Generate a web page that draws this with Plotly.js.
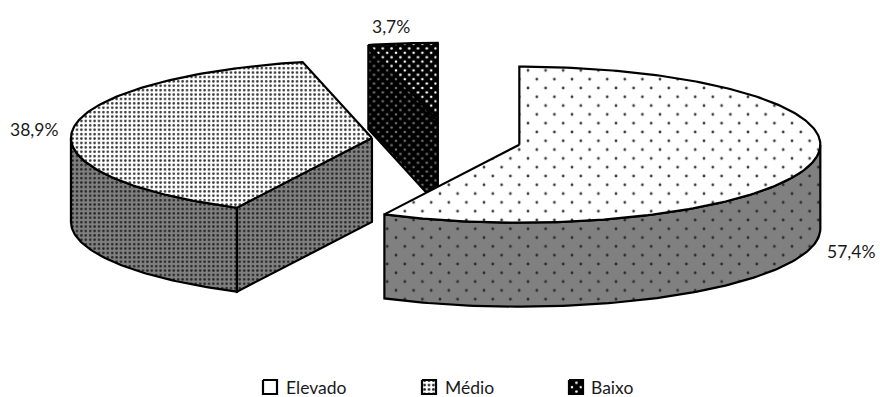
<!DOCTYPE html>
<html>
<head>
<meta charset="utf-8">
<script src="https://cdn.plot.ly/plotly-3.0.1.min.js"></script>
<style>html,body{margin:0;padding:0;background:#fff;overflow:hidden}</style>
</head>
<body>
<div id="chart" style="width:880px;height:397px"></div>
<script>
// Shares of each level, in percent, clockwise from twelve o'clock
const categories = ['Elevado', 'Médio', 'Baixo'];
const shares = [57.4, 38.9, 3.7];

// Projection of the tilted pie onto the page
const pieCentre = {x: 446.4, y: 140.2};
const radiusX = 301, radiusY = 78, wallDepth = 84, explode = 0.249;

const topStyle = [
  {bg: '#ffffff', fg: '#3a3a3a', size: 17.6, solidity: 0.02},
  {bg: '#ffffff', fg: '#333333', size: 4.4, solidity: 0.27},
  {bg: '#000000', fg: '#ffffff', size: 8.8, solidity: 0.07}
];
const wallStyle = [
  {bg: '#808080', fg: '#2a2a2a', size: 17.6, solidity: 0.02},
  {bg: '#808080', fg: '#262626', size: 4.4, solidity: 0.27},
  {bg: '#000000', fg: '#707070', size: 8.8, solidity: 0.07}
];

// Turn the shares into start and end angles
let running = 0;
const spans = shares.map(v => {
  const from = running * 3.6;
  running += v;
  return {from, to: running * 3.6};
});

function centreOf(span) {
  const mid = (span.from + span.to) / 2 * Math.PI / 180;
  return {
    x: pieCentre.x + explode * radiusX * Math.sin(mid),
    y: pieCentre.y - explode * radiusY * Math.cos(mid)
  };
}
function rim(c, deg, drop) {
  const a = deg * Math.PI / 180;
  return [c.x + radiusX * Math.sin(a), c.y - radiusY * Math.cos(a) + (drop || 0)];
}
function arc(c, from, to, drop) {
  const pts = [], n = Math.max(2, Math.ceil(Math.abs(to - from)));
  for (let i = 0; i <= n; i++) pts.push(rim(c, from + (to - from) * i / n, drop));
  return pts;
}
function face(points, style) {
  return {
    type: 'scatter', mode: 'lines', hoverinfo: 'skip', showlegend: false,
    x: points.map(p => p[0]), y: points.map(p => p[1]),
    fill: 'toself', fillcolor: style.bg,
    fillpattern: {shape: '.', bgcolor: style.bg, fgcolor: style.fg, fgopacity: 1,
                  size: style.size, solidity: style.solidity},
    line: {color: '#000000', width: 2.2}
  };
}
// Flat wall standing below one radial edge of a slice
function radialWall(c, deg, style) {
  const o = rim(c, deg);
  return face([[c.x, c.y], o, [o[0], o[1] + wallDepth], [c.x, c.y + wallDepth], [c.x, c.y]], style);
}
// Curved outer wall between two angles
function outerWall(c, from, to, style) {
  const pts = arc(c, from, to).concat(arc(c, to, from, wallDepth));
  pts.push(pts[0]);
  return face(pts, style);
}
function topFace(c, span, style) {
  return face([[c.x, c.y]].concat(arc(c, span.from, span.to), [[c.x, c.y]]), style);
}

const centres = spans.map(centreOf);
const traces = [
  // Small slice at the back first, the large slice last so it overlaps the others
  radialWall(centres[2], spans[2].to, wallStyle[2]),
  radialWall(centres[2], spans[2].from, wallStyle[2]),
  topFace(centres[2], spans[2], topStyle[2]),
  outerWall(centres[1], spans[1].from, 270, wallStyle[1]),
  radialWall(centres[1], spans[1].from, wallStyle[1]),
  topFace(centres[1], spans[1], topStyle[1]),
  outerWall(centres[0], 90, spans[0].to, wallStyle[0]),
  topFace(centres[0], spans[0], topStyle[0])
];

// Legend keys and texts
const labelFont = {family: 'Lato, sans-serif', size: 17.5, color: '#1a1a1a'};
const keyLeft = [263, 422, 569], keyTextLeft = [284, 443, 589], keyTop = 380, keySize = 14;
const keyStyle = [
  {bg: '#ffffff', fg: '#ffffff', size: 8, solidity: 0.01},
  {bg: '#ffffff', fg: '#222222', size: 4.4, solidity: 0.3},
  {bg: '#000000', fg: '#ffffff', size: 8.8, solidity: 0.07}
];
const annotations = [];
categories.forEach((name, i) => {
  const l = keyLeft[i], t = keyTop, s = keySize;
  traces.push(face([[l, t], [l + s, t], [l + s, t + s], [l, t + s], [l, t]], keyStyle[i]));
  annotations.push({x: keyTextLeft[i], y: 387, text: name, xanchor: 'left', yanchor: 'middle',
                    showarrow: false, font: labelFont});
});

// Value labels beside each slice
const labelAt = [[851, 251], [34, 129], [391, 26]];
shares.forEach((v, i) => {
  annotations.push({x: labelAt[i][0], y: labelAt[i][1], text: v.toFixed(1).replace('.', ',') + '%',
                    xanchor: 'center', yanchor: 'middle', showarrow: false, font: labelFont});
});

const hidden = {visible: false, fixedrange: true, autorange: false};
Plotly.newPlot('chart', traces, {
  width: 880, height: 397, margin: {l: 0, r: 0, t: 0, b: 0},
  paper_bgcolor: '#ffffff', plot_bgcolor: '#ffffff', showlegend: false,
  xaxis: Object.assign({range: [0, 880]}, hidden),
  yaxis: Object.assign({range: [397, 0]}, hidden),
  annotations
}, {staticPlot: true, displayModeBar: false}).then(gd => {
  // Stagger the coarser dot screens: one extra dot on the corners of each pattern tile
  gd.querySelectorAll('pattern').forEach(p => {
    const dot = p.querySelector('circle');
    const w = parseFloat(p.getAttribute('width')), h = parseFloat(p.getAttribute('height'));
    if (!dot || w < 5) return;
    [[0, 0], [w, 0], [0, h], [w, h]].forEach(([x, y]) => {
      const extra = dot.cloneNode();
      extra.setAttribute('cx', x);
      extra.setAttribute('cy', y);
      p.appendChild(extra);
    });
  });
});
</script>
</body>
</html>
